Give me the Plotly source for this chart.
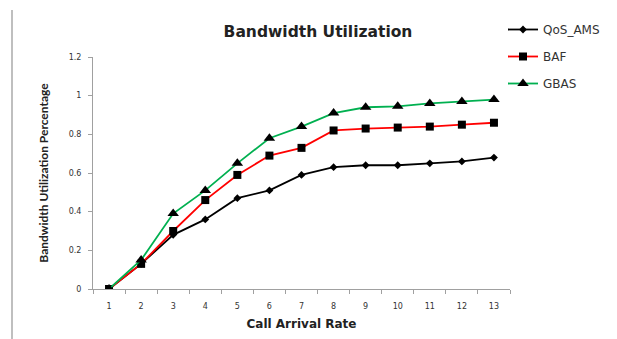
import plotly.graph_objects as go

categories = [str(i) for i in range(1, 14)]
qos_ams = [0, 0.13, 0.28, 0.36, 0.47, 0.51, 0.59, 0.63, 0.64, 0.64, 0.65, 0.66, 0.68]
baf = [0, 0.13, 0.30, 0.46, 0.59, 0.69, 0.73, 0.82, 0.83, 0.835, 0.84, 0.85, 0.86]
gbas = [0, 0.15, 0.39, 0.51, 0.65, 0.78, 0.84, 0.91, 0.94, 0.945, 0.96, 0.97, 0.98]
y_ticks = [0, 0.2, 0.4, 0.6, 0.8, 1, 1.2]
y_tick_text = ["0", "0.2", "0.4", "0.6", "0.8", "1", "1.2"]

wide_font = "'DejaVu Sans', sans-serif"
narrow_font = "Lato, 'Open Sans', sans-serif"

W, H = 617, 339
L, R, T, B = 93, 0, 10, 50
paper_w = W - L - R
paper_h = H - T - B
plot_right = 510
plot_top = 57


def px_x(px):
    return (px - L) / paper_w


def px_y(py):
    return (H - B - py) / paper_h


fig = go.Figure()
fig.add_trace(go.Scatter(x=categories, y=qos_ams, name="QoS_AMS", mode="lines+markers",
                         legendgroup="a",
                         line=dict(color="#000000", width=1.8),
                         marker=dict(symbol="diamond", size=6, color="#000000")))
fig.add_trace(go.Scatter(x=categories, y=baf, name="BAF", mode="lines+markers",
                         legendgroup="b",
                         line=dict(color="#ff0000", width=1.8),
                         marker=dict(symbol="square", size=8, color="#000000")))
fig.add_trace(go.Scatter(x=categories, y=gbas, name="GBAS", mode="lines+markers",
                         legendgroup="c",
                         line=dict(color="#00b050", width=1.8),
                         marker=dict(symbol="triangle-up", size=10, color="#000000")))

fig.update_layout(
    width=W, height=H,
    margin=dict(l=L, r=R, t=T, b=B),
    paper_bgcolor="white", plot_bgcolor="white",
    font=dict(family=wide_font, color="#222222"),
    title=dict(text="<b>Bandwidth Utilization</b>", x=318 / W, xanchor="center",
               y=1 - 32 / H, yanchor="middle", yref="container",
               font=dict(size=15.5, color="#222222", family=wide_font)),
    showlegend=True,
    legend=dict(xref="paper", yref="paper", x=px_x(503), xanchor="left",
                y=px_y(15), yanchor="top",
                font=dict(size=12, color="#333333", family=wide_font),
                tracegroupgap=8, bgcolor="rgba(0,0,0,0)", itemwidth=30),
    xaxis=dict(type="category", tickson="boundaries", ticks="outside", ticklen=4,
               range=[-0.5, len(categories) - 0.5], autorange=False,
               domain=[0, px_x(plot_right)],
               tickcolor="#a0a0a0", showline=True, linecolor="#a0a0a0", linewidth=1,
               showgrid=False, zeroline=False, ticklabelstandoff=9,
               tickfont=dict(size=8, color="#333333", family=wide_font),
               title=dict(text="<b>Call Arrival Rate</b>", standoff=10,
                          font=dict(size=12, color="#222222", family=wide_font))),
    yaxis=dict(range=[0, 1.2], tickvals=y_ticks, ticktext=y_tick_text,
               domain=[0, px_y(plot_top)],
               ticks="outside", ticklen=4, tickcolor="#a0a0a0",
               showline=True, linecolor="#a0a0a0", linewidth=1,
               showgrid=False, zeroline=False, ticklabelstandoff=5,
               tickfont=dict(size=8, color="#333333", family=wide_font),
               title=dict(text="<b>Bandwidth Utilization Percentage</b>", standoff=17,
                          font=dict(size=12, color="#222222", family=narrow_font))),
)

fig.add_shape(type="line", xref="paper", yref="paper",
              x0=px_x(12), x1=px_x(12), y0=px_y(339), y1=px_y(10),
              line=dict(color="#aaaaaa", width=1.5))

fig.write_html("out.html")
